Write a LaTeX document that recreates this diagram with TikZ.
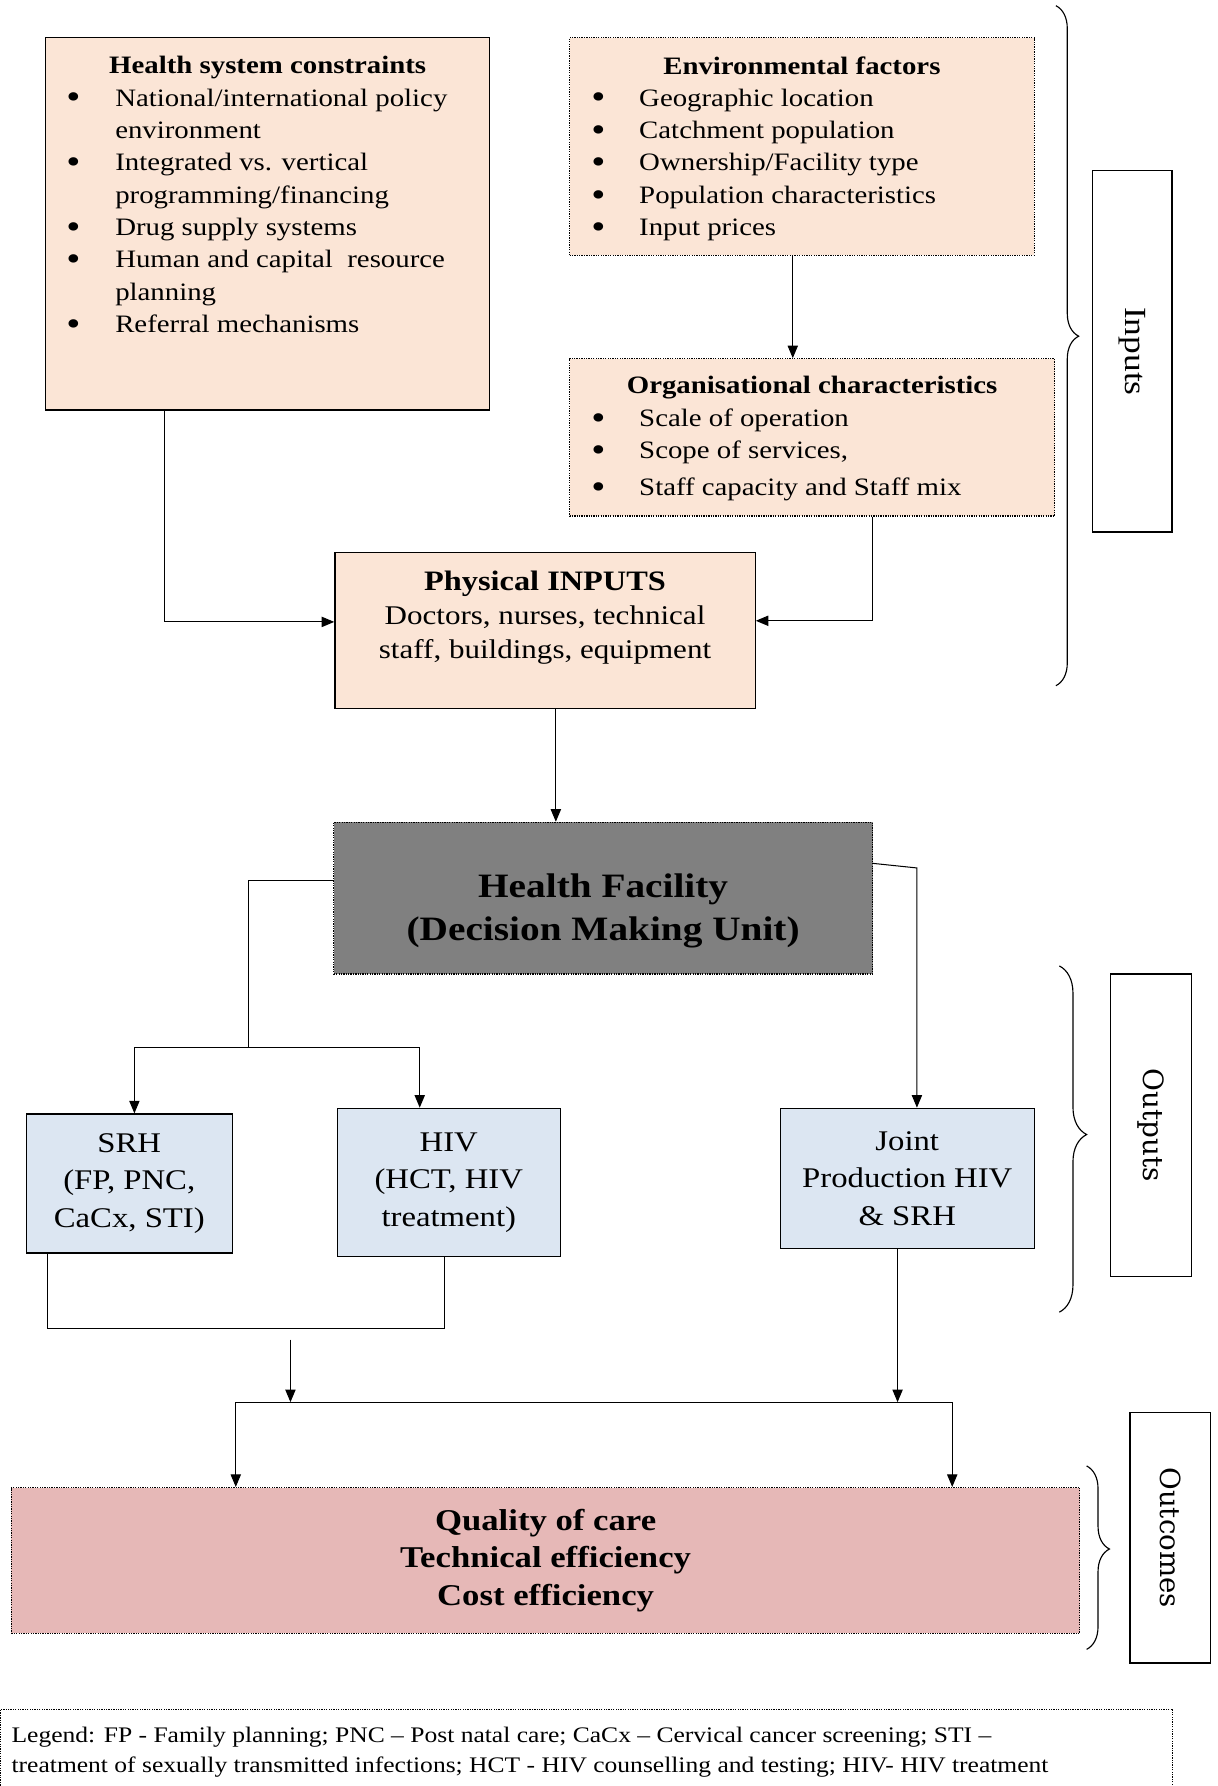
\documentclass[tikz,border=0pt]{standalone}
\usepackage{fontspec}
\setmainfont{Liberation Serif}[FakeStretch=1.15]
\newfontfamily\sidefont{DejaVu Serif}
\usepackage{xcolor}
\usepackage{tikz}
\usetikzlibrary{arrows.meta,positioning,decorations.pathreplacing}
\definecolor{peach}{HTML}{FBE5D6}
\definecolor{dmugray}{HTML}{808080}
\definecolor{outblue}{HTML}{DCE6F2}
\definecolor{outcpink}{HTML}{E6B8B7}
\newcommand{\bul}{\smash{\raisebox{-2.6pt}{\scalebox{1.4}{\textbullet}}}}

\begin{document}
\begin{tikzpicture}[x=1pt, y=-1pt,
    inbox/.style={rectangle, draw=black, line width=1.1pt, fill=peach, inner sep=0pt},
    outbox/.style={rectangle, draw=black, line width=1.1pt, fill=outblue, align=center, inner sep=0pt, font=\fontsize{25}{33}\selectfont},
    sidebox/.style={rectangle, draw=black, line width=1.1pt, rotate=-90, inner sep=0pt},
    head/.style={font=\fontsize{22}{28}\selectfont\bfseries, inner sep=0pt},
    items/.style={font=\fontsize{22}{28.4}\selectfont, inner sep=0pt, anchor=north west},
    arrow/.style={-{Triangle[length=11pt, width=9pt]}, line width=0.9pt},
    link/.style={line width=0.9pt},
    curly/.style={decorate, line width=1pt}
]
    \useasboundingbox (0,0) rectangle (1069,1568);

    % Input boxes
    \node[inbox, minimum width=390pt, minimum height=327pt] (hsc) at (235,196.5) {};
    \node[head] (hsctitle) at (235,59) {Health system constraints};
    \node[items] (hsclist) at (58,73) {\begin{tabular}{@{}p{43pt}@{}l@{}}
        \bul & National/international policy\\
             & environment\\
        \bul & Integrated vs. vertical\\
             & programming/financing\\
        \bul & Drug supply systems\\
        \bul & Human and capital\ \ resource\\
             & planning\\
        \bul & Referral mechanisms
    \end{tabular}};

    \node[inbox, densely dotted, minimum width=408pt, minimum height=191pt] (env) at (704,128.5) {};
    \node[head] (envtitle) at (704,58) {Environmental factors};
    \node[items] (envlist) at (519,73) {\begin{tabular}{@{}p{42pt}@{}l@{}}
        \bul & Geographic location\\
        \bul & Catchment population\\
        \bul & Ownership/Facility type\\
        \bul & Population characteristics\\
        \bul & Input prices
    \end{tabular}};

    \node[inbox, densely dotted, minimum width=426pt, minimum height=138pt] (org) at (713,384) {};
    \node[head] (orgtitle) at (713,340) {Organisational characteristics};
    \node[items] (orglist) at (519,354) {\begin{tabular}{@{}p{42pt}@{}l@{}}
        \bul & Scale of operation\\
        \bul & Scope of services,\\[4pt]
        \bul & Staff capacity and Staff mix
    \end{tabular}};

    \node[inbox, minimum width=369pt, minimum height=137pt] (phys) at (478.5,553.5) {};
    \node[align=center, font=\fontsize{23.7}{30}\selectfont, inner sep=0pt] (physlbl) at (478.5,542)
        {{\fontsize{24.7}{30}\selectfont\bfseries Physical INPUTS}\\Doctors, nurses, technical\\staff, buildings, equipment};

    % Decision making unit
    \node[inbox, fill=dmugray, densely dotted, minimum width=473pt, minimum height=133pt] (hf) at (529.5,788.5) {};
    \node[align=center, font=\fontsize{30}{38}\selectfont\bfseries, inner sep=0pt] (hflbl) at (529.5,800)
        {Health Facility\\(Decision Making Unit)};

    % Outputs
    \node[outbox, minimum width=181pt, minimum height=122pt] (srh) at (113.5,1039) {SRH\\(FP, PNC,\\CaCx, STI)};
    \node[outbox, minimum width=196pt, minimum height=130pt] (hiv) at (394,1038) {HIV\\(HCT, HIV\\treatment)};
    \node[outbox, minimum width=223pt, minimum height=123pt] (joint) at (796.5,1034.5) {Joint\\Production HIV\\\& SRH};

    % Outcomes
    \node[rectangle, draw, densely dotted, line width=1.1pt, fill=outcpink, minimum width=938pt, minimum height=128pt,
        align=center, font=\fontsize{26.5}{33}\selectfont\bfseries] (outc) at (479,1370)
        {Quality of care\\Technical efficiency\\Cost efficiency};

    % Side labels and braces
    \node[sidebox, minimum width=317pt, minimum height=70pt, font=\fontsize{27}{30}\selectfont] (inlab) at (994,308.5) {Inputs};
    \node[sidebox, minimum width=266pt, minimum height=71pt, font=\sidefont\fontsize{24.5}{30}\selectfont] (outlab) at (1010.5,988) {Outputs};
    \node[sidebox, minimum width=220pt, minimum height=71pt, font=\sidefont\fontsize{24.3}{30}\selectfont] (outclab) at (1027.5,1350) {Outcomes};
    \draw[curly, decoration={brace, amplitude=20pt, aspect=0.486}] (927,5) -- (927,602);
    \draw[curly, decoration={brace, amplitude=24pt, aspect=0.487}] (930,848) -- (930,1152);
    \draw[curly, decoration={brace, amplitude=20pt, aspect=0.453}] (954,1287) -- (954,1448);

    % Legend
    \node[draw, densely dotted, line width=1.1pt, anchor=north west, minimum width=1029pt, minimum height=100pt, inner sep=0pt] (legend) at (0,1500) {};
    \node[anchor=north west, align=left, font=\fontsize{19.5}{26}\selectfont, inner sep=0pt] (legtext) at (10,1516)
        {Legend: FP - Family planning; PNC – Post natal care; CaCx – Cervical cancer screening; STI –\\
         treatment of sexually transmitted infections; HCT - HIV counselling and testing; HIV- HIV treatment};

    % Arrows
    \draw[arrow] ([xshift=-8pt]env.south) -- ([xshift=-8pt]env.south |- org.north);
    \draw[arrow] ([xshift=-91pt]hsc.south) |- ([yshift=7.5pt]phys.west);
    \draw[arrow] ([xshift=53pt]org.south) |- ([yshift=8.5pt]phys.east);
    \draw[arrow] ([xshift=9.5pt]phys.south) -- ([xshift=9.5pt]phys.south |- hf.north);

    \coordinate (split) at (218,920);
    \draw[link] ([yshift=15.5pt]hf.west) -| (split);
    \draw[link] ([xshift=4.5pt]srh.north |- split) -- ([xshift=-25.5pt]hiv.north |- split);
    \draw[arrow] ([xshift=4.5pt]srh.north |- split) -- ([xshift=4.5pt]srh.north);
    \draw[arrow] ([xshift=-25.5pt]hiv.north |- split) -- ([xshift=-25.5pt]hiv.north);

    \coordinate (jbend) at (805,762);
    \draw[arrow] ([yshift=30.5pt]hf.east) -- (jbend) -- (jbend |- joint.north);

    \coordinate (mrg) at (42,1166);
    \draw[link] ([xshift=-71.5pt]srh.south) -- (mrg) -- ([xshift=-4pt]hiv.south |- mrg) -- ([xshift=-4pt]hiv.south);

    \coordinate (mrgout) at (255,1176);
    \coordinate (busl) at (207,1231);
    \coordinate (busr) at (836,1231);
    \draw[arrow] (mrgout) -- (mrgout |- busl);
    \draw[arrow] ([xshift=-8.5pt]joint.south) -- ([xshift=-8.5pt]joint.south |- busr);
    \draw[link] (busl) -- (busr);
    \draw[arrow] (busl) -- (busl |- outc.north);
    \draw[arrow] (busr) -- (busr |- outc.north);
\end{tikzpicture}
\end{document}
